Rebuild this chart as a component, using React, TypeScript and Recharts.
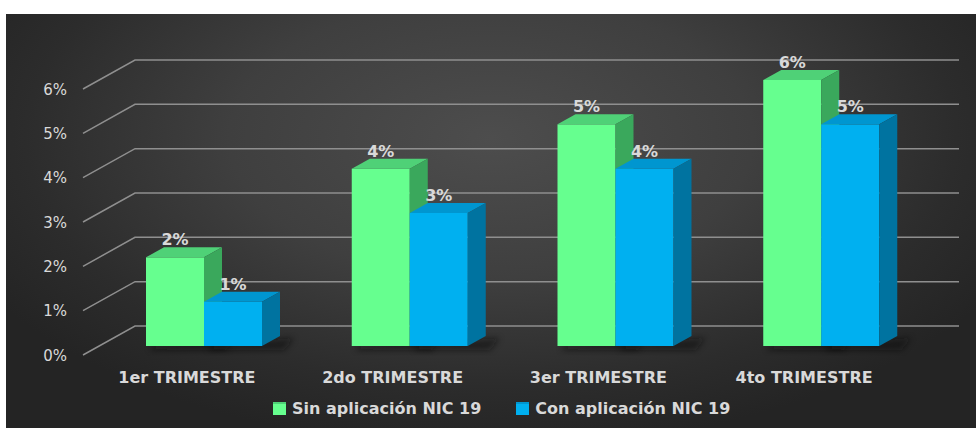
import React from "react";
import { BarChart, Bar, XAxis, YAxis, CartesianGrid, LabelList } from "recharts";

const trimestres = ["1er TRIMESTRE", "2do TRIMESTRE", "3er TRIMESTRE", "4to TRIMESTRE"];
const sinAplicacion = [2, 4, 5, 6];
const conAplicacion = [1, 3, 4, 5];
const yTicks = [0, 1, 2, 3, 4, 5, 6];
const seriesNames = ["Sin aplicación NIC 19", "Con aplicación NIC 19"];

const data = trimestres.map((t, i) => ({
  name: t,
  sin: sinAplicacion[i],
  con: conAplicacion[i],
}));

const FONT = "'DejaVu Sans', Verdana, sans-serif";
const TEXT = "#d9d9d9";
const DX = 18;
const DY = 10;

const palette = {
  sin: { front: "#66ff8f", top: "#4fd177", side: "#3aa85c" },
  con: { front: "#00b0f0", top: "#0096d0", side: "#0073a0" },
};

function makeBox(colors: { front: string; top: string; side: string }) {
  return (props: any) => {
    const { x, y, width: w, height: h } = props;
    if (h == null || w == null) return <g />;
    return (
      <g>
        <polygon
          points={`${x + 6},${y + h} ${x + w + DX + 14},${y + h - DY + 2} ${x + w + DX + 4},${y + h + 4} ${x + 4},${y + h + 4}`}
          fill="#111"
          opacity={0.55}
          filter="url(#blur)"
        />
        <rect x={x} y={y} width={w} height={h} fill={colors.front} />
        <polygon
          points={`${x},${y} ${x + DX},${y - DY} ${x + w + DX},${y - DY} ${x + w},${y}`}
          fill={colors.top}
        />
        <polygon
          points={`${x + w},${y} ${x + w + DX},${y - DY} ${x + w + DX},${y + h - DY} ${x + w},${y + h}`}
          fill={colors.side}
        />
      </g>
    );
  };
}

const gridLine = (props: any) => {
  const { x1, x2, y1 } = props;
  return (
    <path
      key={props.key}
      d={`M ${x1 - 18} ${y1 + 9} L ${x1 + 34} ${y1 - 20} L ${x2 + 35} ${y1 - 20}`}
      stroke="#8f8f8f"
      strokeWidth={1.5}
      fill="none"
    />
  );
};

const valueLabel = (props: any) => {
  const { x, y, width, value } = props;
  return (
    <text
      x={x + width / 2}
      y={y - 12}
      textAnchor="middle"
      fill={TEXT}
      fontFamily={FONT}
      fontWeight={700}
      fontSize={16}
    >
      {value}%
    </text>
  );
};

const XTick = (props: any) => {
  const { x, y, payload } = props;
  return (
    <text
      x={x - 17}
      y={y + 37}
      textAnchor="middle"
      fill={TEXT}
      fontFamily={FONT}
      fontWeight={700}
      fontSize={16}
    >
      {payload.value}
    </text>
  );
};

const YTick = (props: any) => {
  const { y, payload } = props;
  return (
    <text
      x={67}
      y={y + 14.5}
      textAnchor="end"
      fill={TEXT}
      fontFamily={FONT}
      fontSize={15}
    >
      {payload.value}%
    </text>
  );
};

export default function App() {
  return (
    <div style={{ position: "absolute", left: 0, top: 0, width: 976, height: 428, background: "#fff" }}>
      <div
        style={{
          position: "absolute",
          left: 6,
          top: 14,
          right: 0,
          bottom: 0,
          background:
            "radial-gradient(ellipse 60% 75% at 50% 30%, #4d4d4d 0%, #3f3f3f 45%, #2c2c2c 80%, #242424 100%)",
        }}
      />
      <div style={{ position: "absolute", left: 0, top: 0 }}>
        <BarChart
          width={976}
          height={428}
          data={data}
          margin={{ top: 80, right: 52, bottom: 52, left: 0 }}
          barSize={58}
          barGap={0}
        >
          <defs>
            <filter id="blur" x="-20%" y="-50%" width="140%" height="200%">
              <feGaussianBlur stdDeviation="3" />
            </filter>
          </defs>
          <CartesianGrid horizontal={gridLine} vertical={false} />
          <XAxis
            dataKey="name"
            height={30}
            axisLine={false}
            tickLine={false}
            tickSize={0}
            tickMargin={0}
            tick={XTick}
            interval={0}
          />
          <YAxis
            width={101}
            domain={[0, 6]}
            ticks={yTicks}
            axisLine={false}
            tickLine={false}
            tick={YTick}
          />
          <Bar dataKey="sin" name={seriesNames[0]} shape={makeBox(palette.sin)} isAnimationActive={false}>
            <LabelList dataKey="sin" content={valueLabel} />
          </Bar>
          <Bar dataKey="con" name={seriesNames[1]} shape={makeBox(palette.con)} isAnimationActive={false}>
            <LabelList dataKey="con" content={valueLabel} />
          </Bar>
        </BarChart>
      </div>
      <div
        style={{
          position: "absolute",
          left: 273,
          top: 399,
          display: "flex",
          alignItems: "center",
          fontFamily: FONT,
          fontWeight: 700,
          fontSize: 16,
          color: TEXT,
          whiteSpace: "nowrap",
        }}
      >
        {seriesNames.map((n, i) => (
          <div key={n} style={{ display: "flex", alignItems: "center", marginRight: i === 0 ? 35 : 0 }}>
            <span
              style={{
                display: "inline-block",
                width: 13,
                height: 11,
                marginRight: 6,
                background: i === 0 ? palette.sin.front : palette.con.front,
                borderTop: `2px solid ${i === 0 ? palette.sin.top : palette.con.top}`,
              }}
            />
            <span>{n}</span>
          </div>
        ))}
      </div>
    </div>
  );
}
